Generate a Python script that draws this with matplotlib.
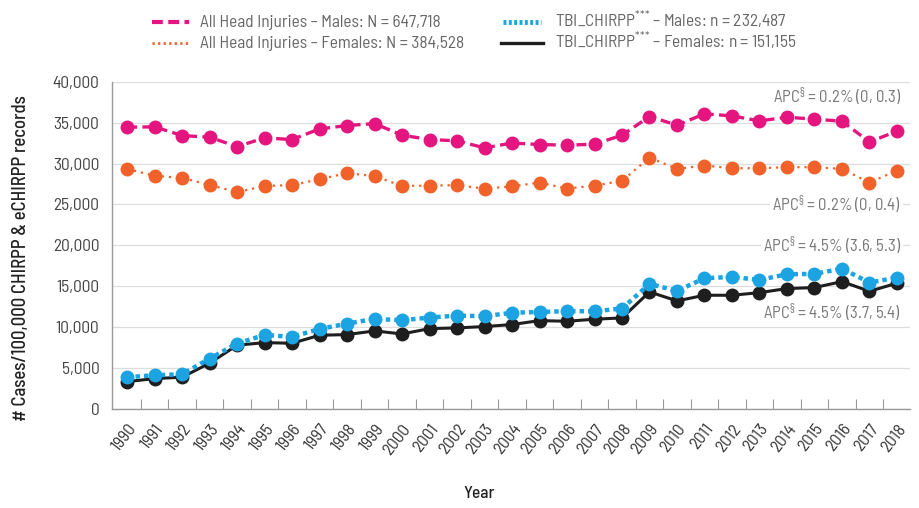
import numpy as np
import matplotlib
matplotlib.use("Agg")
import matplotlib.pyplot as plt
from matplotlib.lines import Line2D

fonts = ['Barlow Semi Condensed', 'Roboto Condensed', 'Liberation Sans Narrow', 'DejaVu Sans']
plt.rcParams['font.family'] = fonts
plt.rcParams['mathtext.fontset'] = 'custom'
plt.rcParams['mathtext.rm'] = 'Barlow Semi Condensed'

years = [str(y) for y in range(1990, 2019)]

males_all = [34450, 34490, 33430, 33220, 32080, 33140, 32940, 34240, 34650, 34890,
             33470, 32940, 32780, 31920, 32510, 32330, 32250, 32370, 33470, 35750,
             34700, 36080, 35830, 35220, 35670, 35430, 35180, 32650, 33960]
females_all = [29350, 28500, 28250, 27400, 26500, 27270, 27360, 28090, 28830, 28460,
               27270, 27300, 27360, 26940, 27210, 27680, 26940, 27310, 27880, 30730,
               29350, 29760, 29430, 29430, 29560, 29560, 29350, 27680, 29150]
males_tbi = [3880, 4120, 4240, 6150, 7990, 9050, 8810, 9780, 10430, 11010,
             10850, 11170, 11410, 11340, 11760, 11860, 11950, 11950, 12270, 15290,
             14430, 15980, 16140, 15780, 16470, 16510, 17160, 15450, 16060]
females_tbi = [3340, 3710, 3880, 5590, 7790, 8110, 8030, 9010, 9090, 9540,
               9170, 9820, 9910, 10070, 10320, 10800, 10720, 10970, 11130, 14310,
               13210, 13900, 13900, 14220, 14720, 14840, 15570, 14390, 15370]

labels = ["All Head Injuries – Males: N = 647,718",
          "All Head Injuries – Females: N = 384,528",
          "TBI_CHIRPP$^{{*}{*}{*}}$ – Males: n = 232,487",
          "TBI_CHIRPP$^{{*}{*}{*}}$ – Females: n = 151,155"]

apc_text = [r"APC$^{\S}$ = 0.2% (0, 0.3)", r"APC$^{\S}$ = 0.2% (0, 0.4)",
            r"APC$^{\S}$ = 4.5% (3.6, 5.3)", r"APC$^{\S}$ = 4.5% (3.7, 5.4)"]
apc_y = [38200, 25000, 20000, 11800]

pink = '#E5157F'
orange = '#F0622A'
blue = '#1BA3E2'
black = '#1E1E1E'

x = np.arange(len(years))

fig = plt.figure(figsize=(9.2, 5.08), dpi=100)
ax = fig.add_axes([0.1217, 0.195, 0.8673, 0.644])

ax.plot(x, males_all, color=pink, lw=2.4, ls=(0, (3, 1.6)), marker='o', ms=9, zorder=3)
ax.plot(x, females_all, color=orange, lw=1.6, ls=(0, (1, 2.2)), marker='o', ms=9, zorder=3)
ax.plot(x, females_tbi, color=black, lw=2.2, ls='-', marker='o', ms=9, zorder=3)
ax.plot(x, males_tbi, color=blue, lw=3.2, ls=(0, (1, 0.9)), marker='o', ms=9, zorder=4)

for t, yv in zip(apc_text, apc_y):
    ax.text(28.15, yv, t, ha='right', va='center', fontsize=12, color='#777777',
            bbox=dict(facecolor='white', edgecolor='none', pad=1.5), zorder=2)

ax.set_xlim(-0.55, 28.47)
ax.set_ylim(0, 40000)
ax.set_yticks(np.arange(0, 40001, 5000))
ax.set_yticklabels([f"{v:,}" for v in range(0, 40001, 5000)])
ax.set_xticks(x)
ax.set_xticklabels(years, rotation=52, ha='right', rotation_mode='anchor')
ax.set_xticks(x[:-1] + 0.5, minor=True)
ax.tick_params(axis='x', which='major', length=0, pad=9, labelsize=12.5, labelcolor='#333333')
ax.tick_params(axis='x', which='minor', length=7, direction='in', color='#999999', width=0.8)
ax.tick_params(axis='y', length=0, pad=9, labelsize=12.5, labelcolor='#444444')

ax.grid(axis='y', color='#dddddd', lw=0.9, zorder=0)
ax.set_axisbelow(True)
for s in ['top', 'right']:
    ax.spines[s].set_visible(False)
for s in ['left', 'bottom']:
    ax.spines[s].set_color('#999999')
    ax.spines[s].set_linewidth(1.0)

ax.set_ylabel("# Cases/100,000 CHIRPP & eCHIRPP records", fontsize=13.5, color='#222222',
              fontweight='medium')
ax.yaxis.set_label_coords(-0.103, 0.46)
ax.set_xlabel("Year", fontsize=12.5, color='#222222', fontweight='medium')
ax.xaxis.set_label_coords(0.46, -0.237)

# legend drawn by hand: two columns, two rows
W, H = 920.0, 508.0
handles = [dict(color=pink, lw=3, ls=(0, (2.6, 1.3))),
           dict(color=orange, lw=2, ls=(0, (0.8, 1.2))),
           dict(color=blue, lw=3.5, ls=(0, (0.6, 0.5))),
           dict(color=black, lw=2.4, ls='-')]
hx = [(152, 189), (152, 189), (503, 541), (501, 543)]
tx = [200, 200, 555, 555]
ty = [21.5, 43, 21.5, 43]
for st, (x0, x1), t_x, t_y, lab in zip(handles, hx, tx, ty, labels):
    fig.add_artist(Line2D([x0 / W, x1 / W], [1 - t_y / H, 1 - t_y / H],
                          color=st['color'], lw=st['lw'], ls=st['ls'],
                          transform=fig.transFigure))
    fig.text(t_x / W, 1 - (t_y + 5) / H, lab, ha='left', va='baseline',
             fontsize=12.5, color='#666666')

fig.savefig("out.png", dpi=100)
